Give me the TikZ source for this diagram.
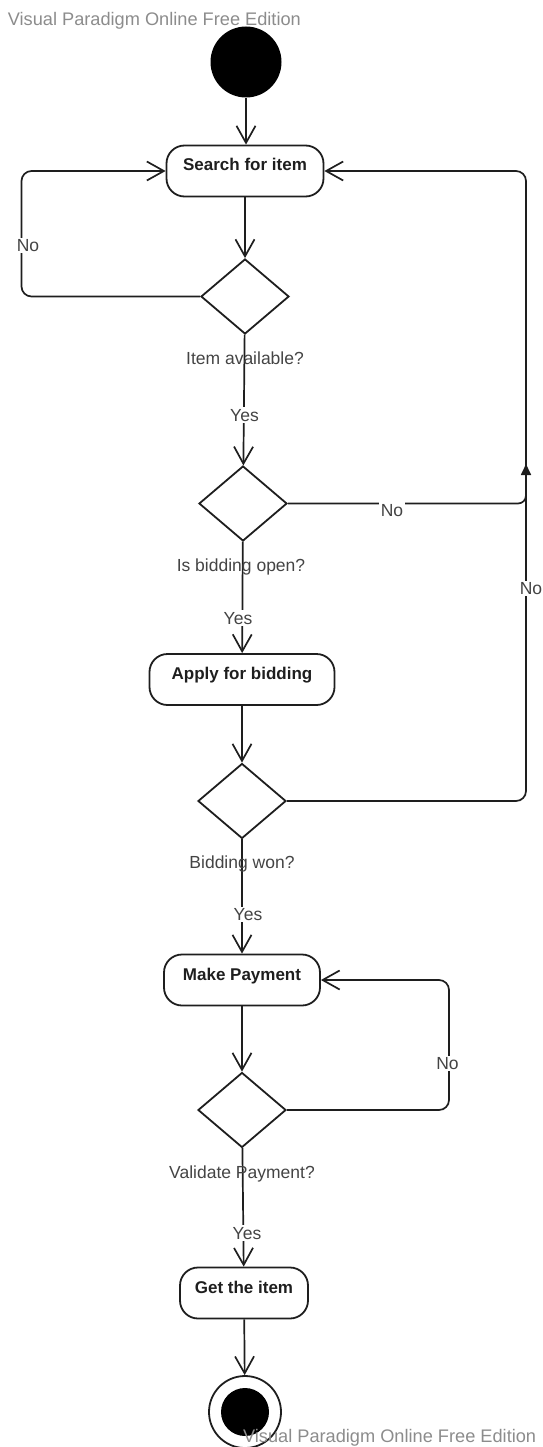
\documentclass[tikz,border=0pt]{standalone}
\usepackage{fontspec}
\setmainfont{Liberation Sans}
\usetikzlibrary{arrows.meta,shapes.geometric}
\definecolor{wm}{HTML}{8C8C8C}
\definecolor{lbl}{HTML}{444444}
\definecolor{ink}{HTML}{1E1E1E}
\begin{document}
\begin{tikzpicture}[x=1pt,y=-1pt,
  line width=1.7pt,
  act/.style={draw=ink, line width=1.8pt, rounded corners=18pt, minimum height=51pt, inner sep=0pt,
    font=\fontsize{17}{20}\selectfont\bfseries, text=ink, text height=12pt, text depth=12pt},
  dec/.style={draw=ink, diamond, line width=1.8pt, minimum width=88pt, minimum height=75pt, inner sep=0pt},
  startst/.style={circle, fill=black, minimum size=71pt, inner sep=0pt},
  cond/.style={font=\fontsize{17.5}{20}\selectfont, text=lbl, inner sep=0pt, anchor=base},
  guard/.style={font=\fontsize{17.5}{20}\selectfont, text=lbl, fill=white, inner sep=1.5pt, anchor=base},
  wmark/.style={font=\fontsize{18.2}{20}\selectfont, text=wm, inner sep=0pt},
  flow/.style={draw=ink, -{Straight Barb[length=17pt,width=19pt]}},
  merge/.style={draw=ink, -{Triangle[length=11pt,width=10pt]}},
]
\useasboundingbox (0,0) rectangle (542,1447);

% nodes
\node[startst] (start) at (246,62) {};
\node[act, minimum width=157pt] (search) at (245,171) {Search for item};
\node[dec] (d1) at (245,296.5) {};
\node[dec] (d2) at (243,503.5) {};
\node[act, minimum width=185pt] (apply) at (242,679.5) {Apply for bidding\hspace{12pt}};
\node[dec] (d3) at (242,801) {};
\node[act, minimum width=156pt] (pay) at (242,980) {Make Payment\hspace{8pt}};
\node[dec] (d4) at (242,1110) {};
\node[act, minimum width=128pt] (get) at (244,1293) {Get the item};
\node[circle, draw=ink, line width=1.8pt, minimum size=72pt, inner sep=0pt] (end) at (245,1412) {};
\node[circle, fill=black, minimum size=48pt, inner sep=0pt] (endin) at (end.center) {};

\coordinate (lft) at (21.5,171);
\coordinate (rgt) at (526,171);
\coordinate (mrg) at (526,464);
\coordinate (pl) at (449,980);

% connectors
\draw[flow] (start.south) -- (start.south |- search.north);
\draw[flow] (search) -- (d1);
\draw[flow] (d1) -- (d2);
\draw[flow] (d2) -- (apply);
\draw[flow] (apply) -- (d3);
\draw[flow] (d3) -- (pay);
\draw[flow] (pay) -- (d4);
\draw[flow] (d4) -- (get);
\draw[flow] (get) -- (end);
\draw[flow, rounded corners=10pt] (d1.west) -| (lft) -- (search.west);
\draw[flow, rounded corners=10pt] (d3.east) -| (rgt) -- (search.east);
\draw[merge, rounded corners=8pt] (d2.east) -| (mrg);
\draw[flow, rounded corners=10pt] (d4.east) -| (pl) -- (pay.east);

% condition labels
\node[cond] (c1) at (245,364) {Item available?};
\node[cond] (c2) at (241,571.5) {Is bidding open?};
\node[cond] (c3) at (242,868.5) {Bidding won?};
\node[cond] (c4) at (242,1178.5) {Validate Payment?};

% guards
\node[guard] (y1) at (244.5,421) {Yes};
\node[guard] (y2) at (238,624) {Yes};
\node[guard] (y3) at (248,920.5) {Yes};
\node[guard] (y4) at (247,1239) {Yes};
\node[guard] (n1) at (28,251.5) {No};
\node[guard] (n2) at (392,516) {No};
\node[guard] (n3) at (531,594.5) {No};
\node[guard] (n4) at (447.5,1069.5) {No};

% watermarks
\node[wmark, anchor=base west] (wm1) at (7,25.5) {Visual Paradigm Online Free Edition};
\node[wmark, anchor=base east] (wm2) at (537,1442) {Visual Paradigm Online Free Edition};
\end{tikzpicture}
\end{document}
